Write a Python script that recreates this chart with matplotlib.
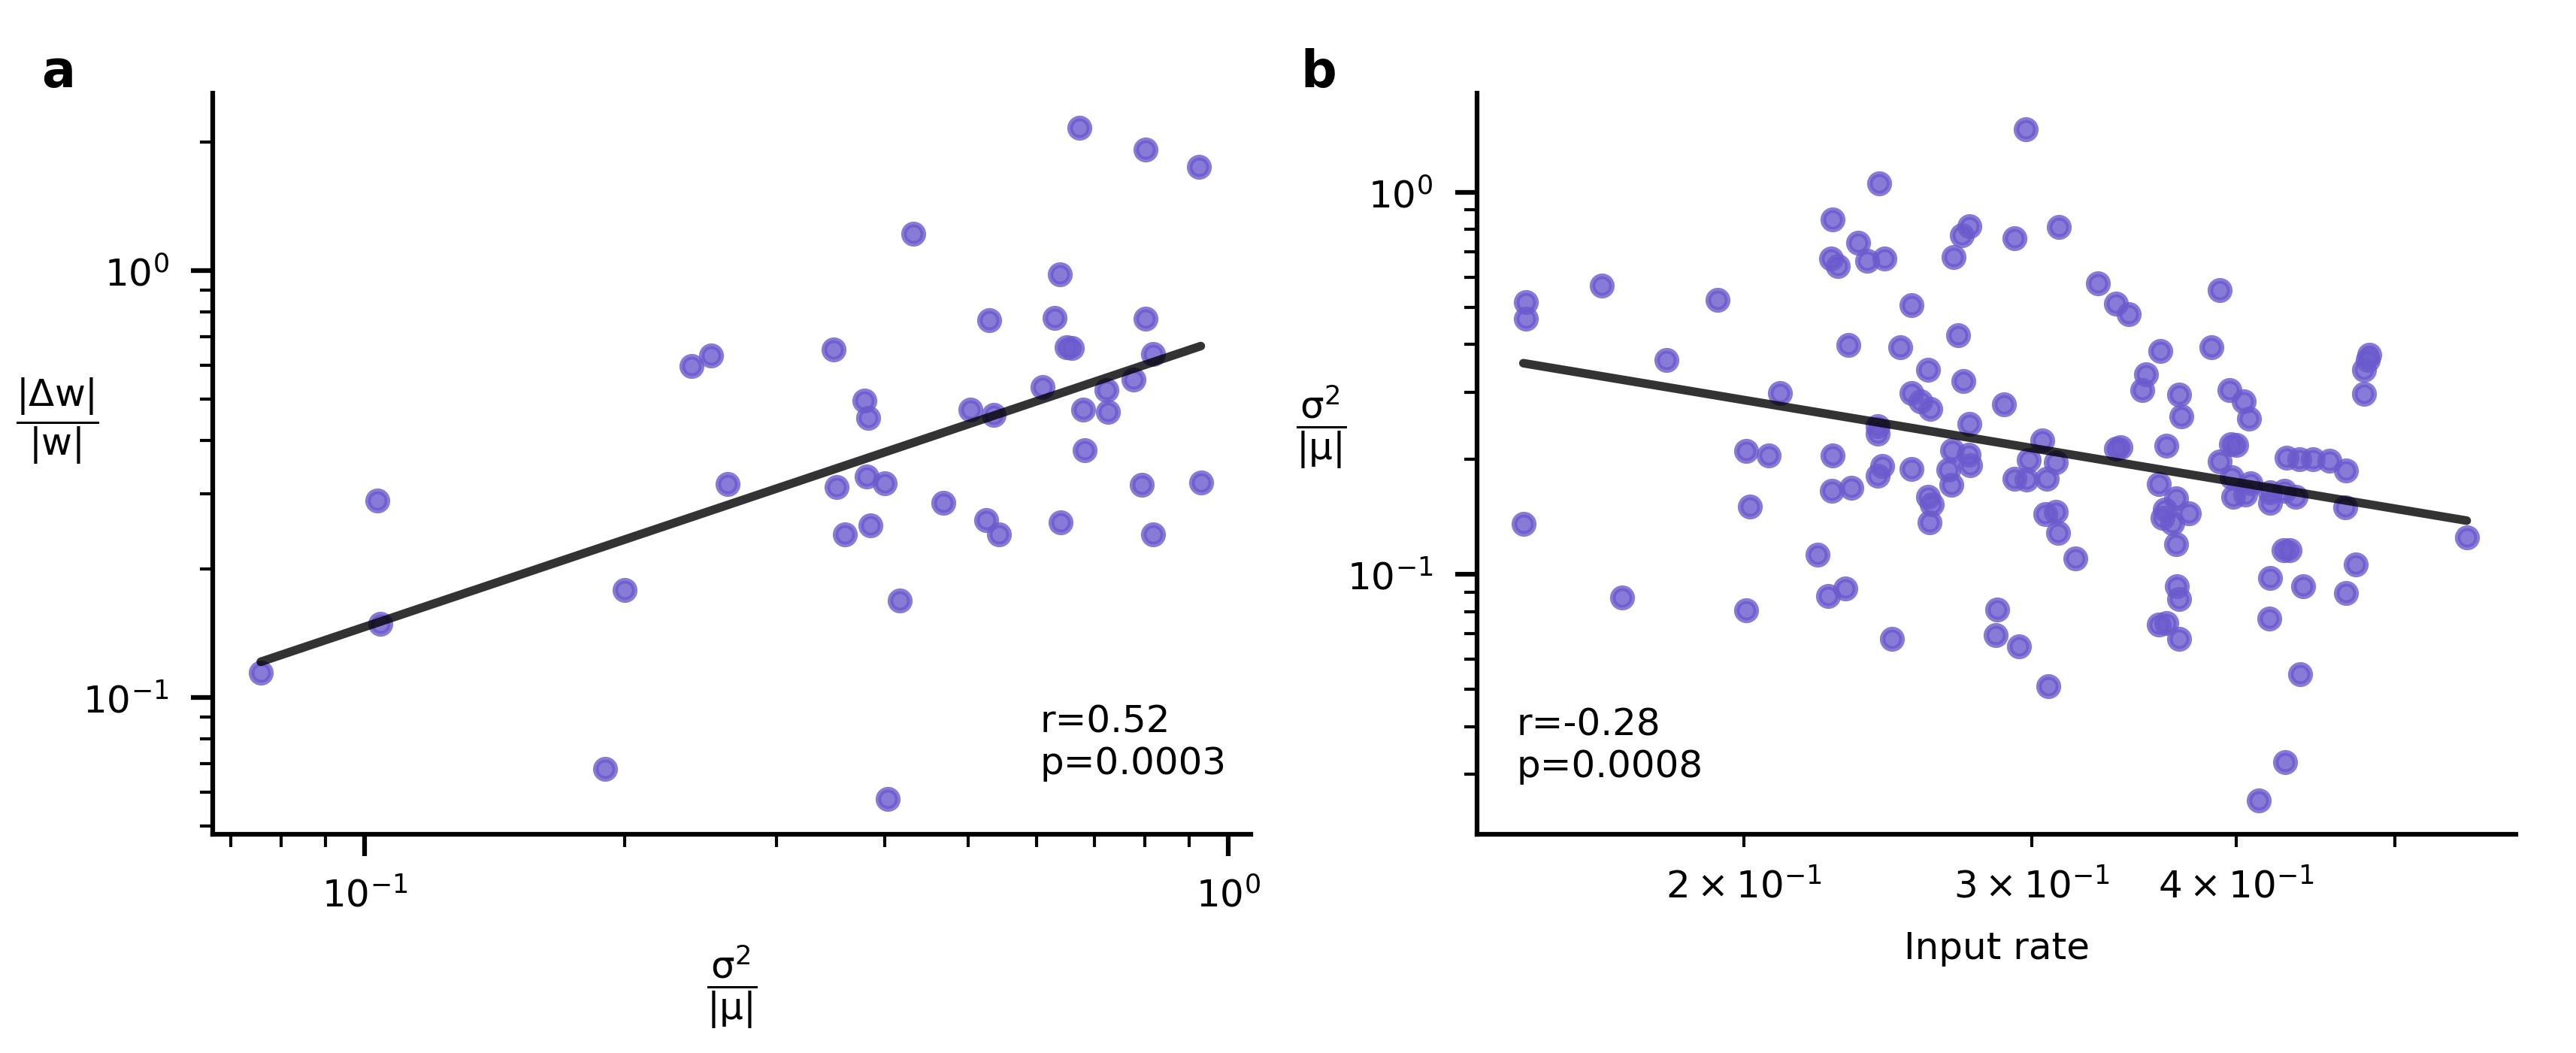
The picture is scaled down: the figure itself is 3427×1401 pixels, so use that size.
import numpy as np
import matplotlib
matplotlib.use('Agg')
import matplotlib.pyplot as plt

plt.rcParams['mathtext.default'] = 'regular'
plt.rcParams['font.size'] = 12

# panel a: relative variance vs relative weight change
var_a = [0.0758, 0.1035, 0.1042, 0.190, 0.200, 0.239, 0.252, 0.263, 0.349, 0.352,
         0.360, 0.379, 0.383, 0.381, 0.400, 0.385, 0.403, 0.416, 0.432, 0.468,
         0.503, 0.524, 0.528, 0.535, 0.542, 0.609, 0.629, 0.638, 0.639, 0.650,
         0.659, 0.672, 0.679, 0.682, 0.722, 0.725, 0.776, 0.793, 0.802, 0.802,
         0.818, 0.818, 0.925, 0.929]
dw_a = [0.1143, 0.290, 0.149, 0.068, 0.179, 0.597, 0.634, 0.316, 0.654, 0.311,
        0.241, 0.497, 0.452, 0.330, 0.318, 0.253, 0.058, 0.169, 1.22, 0.286,
        0.472, 0.261, 0.767, 0.459, 0.241, 0.534, 0.776, 0.982, 0.257, 0.661,
        0.659, 2.165, 0.472, 0.380, 0.526, 0.467, 0.556, 0.315, 0.773, 1.92,
        0.638, 0.241, 1.748, 0.319]

# panel b: input rate vs relative variance
rate_b = [0.2419, 0.2266, 0.2349, 0.2262, 0.2283, 0.2379, 0.2439, 0.2747, 0.2718, 0.2688,
          0.1472, 0.1472, 0.1638, 0.1928, 0.2532, 0.2318, 0.2492, 0.2705, 0.1795, 0.2593,
          0.2724, 0.2105, 0.2533, 0.2565, 0.2600, 0.2747, 0.2416, 0.2414, 0.2008, 0.2071,
          0.2267, 0.2681, 0.2744, 0.2751, 0.2668, 0.2679, 0.2430, 0.2414, 0.2532, 0.2264,
          0.2328, 0.2593, 0.2606, 0.2598, 0.1467, 0.2018, 0.2220, 0.1686, 0.2008, 0.2253,
          0.2307, 0.2463,
          0.2974, 0.2927, 0.3116, 0.3292, 0.3376, 0.3438, 0.3909, 0.3596, 0.3864, 0.3523,
          0.3505, 0.3692, 0.3703, 0.3962, 0.4043, 0.4072, 0.4822, 0.4811, 0.4787, 0.4785,
          0.2885, 0.3045, 0.3378, 0.3398, 0.3623, 0.2987, 0.3103, 0.2927, 0.2977, 0.3065,
          0.3057, 0.3103, 0.3113, 0.3191, 0.3968, 0.4000,
          0.3908, 0.3972, 0.3982, 0.4050, 0.4079, 0.4196, 0.4196, 0.4278, 0.4346,
          0.3586, 0.3676, 0.3618, 0.3605, 0.3656, 0.3741, 0.3676,
          0.4293, 0.4373, 0.4457, 0.4558, 0.4669,
          0.4661, 0.5531, 0.4276, 0.4310, 0.4733, 0.4196, 0.4393, 0.4666, 0.3678, 0.3691,
          0.2858, 0.2851, 0.2945, 0.4191, 0.3587, 0.3623, 0.3691, 0.3069, 0.4375, 0.4283,
          0.4129]
var_b = [1.056, 0.850, 0.737, 0.670, 0.640, 0.662, 0.672, 0.815, 0.773, 0.678,
         0.517, 0.466, 0.570, 0.522, 0.506, 0.398, 0.394, 0.423, 0.364, 0.343,
         0.320, 0.298, 0.298, 0.2834, 0.2717, 0.2478, 0.244, 0.2334, 0.2103, 0.2048,
         0.2048, 0.2116, 0.2054, 0.1935, 0.1878, 0.1718, 0.1918, 0.1813, 0.1884, 0.1658,
         0.1688, 0.1595, 0.1525, 0.1366, 0.1354, 0.1507, 0.1126, 0.0869, 0.0807, 0.0877,
         0.0917, 0.0679,
         1.465, 0.7565, 0.8127, 0.5788, 0.5108, 0.4798, 0.555, 0.3838, 0.394, 0.3346,
         0.3042, 0.2961, 0.2591, 0.3034, 0.2841, 0.2553, 0.3749, 0.3638, 0.3438, 0.2972,
         0.2783, 0.2246, 0.2135, 0.2148, 0.2168, 0.1994, 0.1965, 0.1781, 0.1770, 0.1781,
         0.1437, 0.1458, 0.1287, 0.1103, 0.2193, 0.2180,
         0.1971, 0.1792, 0.1595, 0.1620, 0.1734, 0.1644, 0.1537, 0.1657, 0.1595,
         0.1721, 0.1584, 0.148, 0.1404, 0.1362, 0.1446, 0.1198,
         0.2023, 0.2005, 0.2005, 0.1982, 0.1867,
         0.1498, 0.1249, 0.116, 0.116, 0.1064, 0.0979, 0.0930, 0.0895, 0.0933, 0.0861,
         0.0809, 0.0695, 0.0647, 0.0765, 0.074, 0.0746, 0.0679, 0.051, 0.0549, 0.0323,
         0.0256]

stats_a = 'r=0.52\np=0.0003'
stats_b = 'r=-0.28\np=0.0008'

dot_color = 'slateblue'

fig = plt.figure(figsize=(3427 / 300, 1402 / 300), dpi=300)
ax_a = fig.add_axes([0.0826, 0.2076, 0.4029, 0.7030])
ax_b = fig.add_axes([0.5733, 0.2076, 0.4035, 0.7030])


def loglog_panel(ax, x, y):
    x = np.asarray(x)
    y = np.asarray(y)
    ax.scatter(x, y, s=38, color=dot_color, alpha=0.8, linewidths=1.8,
               edgecolors='face', zorder=2)
    # linear fit in log-log space
    m, b = np.polyfit(np.log10(x), np.log10(y), 1)
    xs = np.array([x.min(), x.max()])
    ax.plot(xs, 10 ** (b + m * np.log10(xs)), color='k', alpha=0.8, lw=2.75,
            solid_capstyle='round', zorder=3)
    ax.set_xscale('log')
    ax.set_yscale('log')
    for s in ['top', 'right']:
        ax.spines[s].set_visible(False)
    for s in ['left', 'bottom']:
        ax.spines[s].set_linewidth(1.5)
    ax.tick_params(which='major', length=7, width=1.5, labelsize=12)
    ax.tick_params(which='minor', length=4, width=1.0)
    ax.tick_params(axis='x', which='both', pad=6.5)
    ax.tick_params(axis='y', which='both', pad=7)


loglog_panel(ax_a, var_a, dw_a)
ax_a.set_xlim(0.0667, 1.061)
ax_a.set_ylim(0.04786, 2.602)
ax_a.text(0.797, 0.072, stats_a, transform=ax_a.transAxes, fontsize=12,
          va='bottom', ha='left')
ax_a.set_xlabel(r'$\dfrac{\sigma^2}{|\mu|}$', fontsize=12, va='center')
ax_a.xaxis.set_label_coords(0.5, -0.205)
ax_a.set_ylabel(r'$\dfrac{|\Delta w|}{|w|}$', fontsize=12, rotation=0,
                ha='center', va='center')
ax_a.yaxis.set_label_coords(-0.1496, 0.559)

loglog_panel(ax_b, rate_b, var_b)
ax_b.set_xlim(0.1374, 0.593)
ax_b.set_ylim(0.0209, 1.814)
ax_b.text(0.038, 0.068, stats_b, transform=ax_b.transAxes, fontsize=12,
          va='bottom', ha='left')
ax_b.set_xlabel('Input rate', fontsize=12, va='center')
ax_b.xaxis.set_label_coords(0.5, -0.153)
ax_b.set_ylabel(r'$\dfrac{\sigma^2}{|\mu|}$', fontsize=12, rotation=0,
                ha='center', va='center')
ax_b.yaxis.set_label_coords(-0.1497, 0.5506)

fig.text(0.016, 0.917, 'a', fontsize=16, fontweight='bold', va='baseline')
fig.text(0.505, 0.917, 'b', fontsize=16, fontweight='bold', va='baseline')

fig.savefig('out.png', dpi=300)
